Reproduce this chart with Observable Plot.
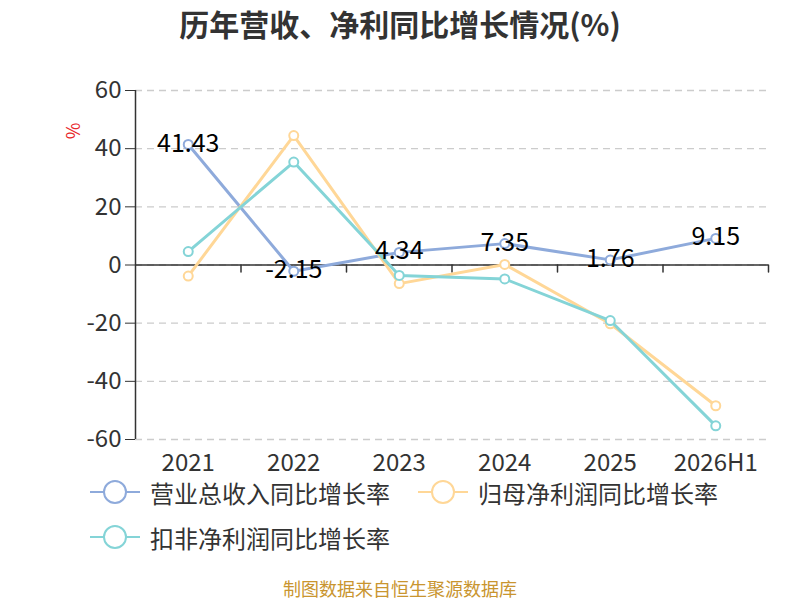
<!DOCTYPE html>
<html><head><meta charset="utf-8">
<script src="https://cdn.jsdelivr.net/npm/d3@7"></script>
<script src="https://cdn.jsdelivr.net/npm/@observablehq/plot@0.6"></script>
<style>
body{margin:0;background:#fff;}
#wrap{position:relative;width:800px;height:600px;overflow:hidden;font-family:"Noto Sans CJK SC","Noto Sans",sans-serif;color:#333;}
#title{position:absolute;top:0;left:0;width:800px;text-align:center;font-size:30px;font-weight:bold;color:#333;line-height:46px;}
#chart{position:absolute;top:60px;left:0;}
#unit{position:absolute;left:62px;top:120px;width:20px;height:22px;line-height:22px;text-align:center;font-size:18px;color:#e8262b;transform:rotate(-90deg);}
.leg{position:absolute;display:flex;align-items:center;font-size:24px;color:#333;height:30px;white-space:nowrap;}
.leg svg{margin-right:10px;}
#foot{position:absolute;top:577px;left:0;width:800px;text-align:center;font-size:18px;color:#c9952f;line-height:22px;}
</style></head>
<body>
<div id="wrap">
  <div id="title">历年营收、净利同比增长情况(%)</div>
  <div id="unit">%</div>
  <div id="chart"></div>
  <div id="legend"></div>
  <div id="foot">制图数据来自恒生聚源数据库</div>
</div>
<script>
const categories = ["2021","2022","2023","2024","2025","2026H1"];
const revenue = [41.43,-2.15,4.34,7.35,1.76,9.15];
const netProfit = [-3.8,44.5,-6.4,0.2,-20.2,-48.4];
const deducted = [4.6,35.4,-3.6,-4.8,-19.1,-55.3];
const seriesNames = ["营业总收入同比增长率","归母净利润同比增长率","扣非净利润同比增长率"];
const colors = ["#8eaadb","#ffd797","#84d4d7"];
const yTicks = [-60,-40,-20,0,20,40,60];

const seriesValues = [revenue, netProfit, deducted];
const rows = seriesValues.map((vals, s) => vals.map((v, i) => ({i, cat: categories[i], value: v, series: seriesNames[s]})));
const xDomain = [-0.5, categories.length - 0.5];
const boundaries = categories.map((c, i) => i + 0.5);
const tickShape = {draw(context, l) { context.moveTo(0, 0); context.lineTo(0, -l); }};

const marks = [
  Plot.gridY(yTicks, {stroke: "#ccc", strokeOpacity: 1, strokeDasharray: "7,5", strokeWidth: 1.3}),
  Plot.axisY(yTicks, {tickSize: 10, tickPadding: 4, tickFormat: d => String(d), label: null, fontSize: 24, color: "#333"}),
  Plot.axisX(categories.map((c, i) => i), {tickSize: 0, tickPadding: 14, tickFormat: i => categories[i], label: null, fontSize: 24, color: "#333"}),
  Plot.ruleX([xDomain[0]], {stroke: "#333", strokeWidth: 1.5}),
  Plot.ruleY([0], {stroke: "#333", strokeWidth: 1.5}),
  Plot.vector(boundaries, {x: d => d, y: () => 0, length: 7, rotate: 180, anchor: "start", stroke: "#333", strokeWidth: 1.5, shape: tickShape})
];
rows.forEach((r, s) => {
  marks.push(Plot.line(r, {x: "i", y: "value", stroke: colors[s], strokeWidth: 3}));
  marks.push(Plot.dot(r, {x: "i", y: "value", r: 4.5, fill: "#fff", stroke: colors[s], strokeWidth: 2}));
});
marks.push(Plot.text(rows[0], {x: "i", y: "value", text: d => d.value.toFixed(2), fill: "#000", fontSize: 25, dy: -1}));

const chart = Plot.plot({
  width: 800, height: 420,
  marginLeft: 135, marginRight: 32, marginTop: 30, marginBottom: 41,
  x: {type: "linear", domain: xDomain},
  y: {domain: [-60, 60]},
  style: {fontFamily: '"Noto Sans CJK SC","Noto Sans",sans-serif', fontSize: "24px", color: "#333", background: "transparent"},
  marks
});
document.getElementById("chart").appendChild(chart);

const legendPos = [[90, 477], [418, 477], [90, 522]];
const legend = document.getElementById("legend");
seriesNames.forEach((name, s) => {
  const d = document.createElement("div");
  d.className = "leg";
  d.style.left = legendPos[s][0] + "px";
  d.style.top = legendPos[s][1] + "px";
  d.innerHTML = `<svg width="50" height="30"><line x1="0" y1="15" x2="50" y2="15" stroke="${colors[s]}" stroke-width="2"/><circle cx="25" cy="15" r="11" fill="#fff" stroke="${colors[s]}" stroke-width="2"/></svg><span>${name}</span>`;
  legend.appendChild(d);
});
</script>
</body></html>
